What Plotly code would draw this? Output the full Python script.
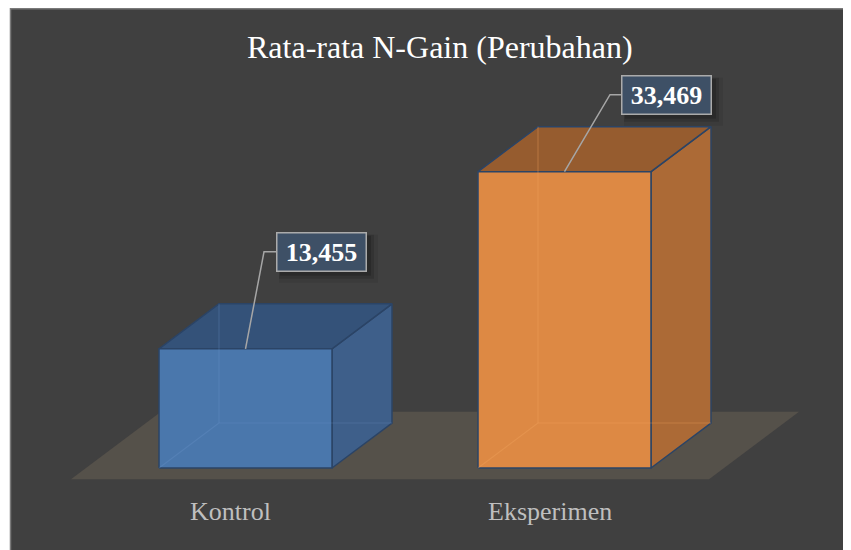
import plotly.graph_objects as go

# ---------------- data ----------------
categories = ["Kontrol", "Eksperimen"]
values = [13.455, 33.469]
value_labels = ["13,455", "33,469"]
title_text = "Rata-rata N-Gain (Perubahan)"

# ---------------- style ----------------
front_colors = ["#4A77AC", "#DD8944"]
top_colors = ["#345279", "#965C2F"]
side_colors = ["#3E5F8A", "#AC6A36"]
hidden_colors = ["rgba(120,160,215,0.22)", "rgba(245,170,100,0.30)"]
edge_color = "#2B4466"
floor_color = "#55514A"
bg_color = "#404040"
serif = "Liberation Serif, Times New Roman, serif"

# label offsets (pixels) relative to bar front-top centre: elbow dx, box dx, dy
label_elbow_dx = [18.5, 45.5]
label_box_dx = [30.5, 56.5]
label_dy = [97, 77]

# the page body has an 8px margin, so the figure is 8px smaller and offset
PAGE_M = 8
W, H = 851 - PAGE_M, 550 - PAGE_M
PX_X = 319.0               # pixels per category step
PX_Y = 8.855               # pixels per value unit
X0_PX = 245.5 - PAGE_M     # pixel x of first category
Y0_PX = 468.0 - PAGE_M     # pixel y of value 0 (front plane)
DX = 60 / PX_X             # depth offset in x units
DY = 45 / PX_Y             # depth offset in y units
HW = 86.5 / PX_X           # bar half-width

xrange = [-X0_PX / PX_X, (W - X0_PX) / PX_X]
yrange = [-(H - Y0_PX) / PX_Y, Y0_PX / PX_Y]


def proj(x, y, d):
    return x + d * DX, y + d * DY


def poly(pts):
    xs, ys = [], []
    for p in pts:
        px, py = proj(*p)
        xs.append(px)
        ys.append(py)
    xs.append(xs[0])
    ys.append(ys[0])
    return xs, ys


fig = go.Figure()

# floor
n = len(categories)
fx, fy = poly([(-0.5, 0, -0.25), (n - 0.5, 0, -0.25), (n - 0.5, 0, 1.25), (-0.5, 0, 1.25)])
fig.add_trace(go.Scatter(x=fx, y=fy, mode="lines", fill="toself", fillcolor=floor_color,
                         line=dict(width=0), hoverinfo="skip", showlegend=False))

for i, (cat, v) in enumerate(zip(categories, values)):
    xl, xr = i - HW, i + HW
    # side face
    sx, sy = poly([(xr, 0, 0), (xr, v, 0), (xr, v, 1), (xr, 0, 1)])
    fig.add_trace(go.Scatter(x=sx, y=sy, mode="lines", fill="toself", fillcolor=side_colors[i],
                             line=dict(color=edge_color, width=1.5), hoverinfo="skip", showlegend=False))
    # top face
    tx, ty = poly([(xl, v, 0), (xr, v, 0), (xr, v, 1), (xl, v, 1)])
    fig.add_trace(go.Scatter(x=tx, y=ty, mode="lines", fill="toself", fillcolor=top_colors[i],
                             line=dict(color=edge_color, width=1.5), hoverinfo="skip", showlegend=False))
    # front face
    ox, oy = poly([(xl, 0, 0), (xr, 0, 0), (xr, v, 0), (xl, v, 0)])
    fig.add_trace(go.Scatter(x=ox, y=oy, mode="lines", fill="toself", fillcolor=front_colors[i],
                             line=dict(color=edge_color, width=1.5), hoverinfo="skip", showlegend=False))
    # hidden edges (seen through the translucent faces)
    hx, hy = [], []
    for seg in [[(xl, 0, 0), (xl, 0, 1)], [(xl, 0, 1), (xr, 0, 1)], [(xl, 0, 1), (xl, v, 1)]]:
        for p in seg:
            px, py = proj(*p)
            hx.append(px)
            hy.append(py)
        hx.append(None)
        hy.append(None)
    fig.add_trace(go.Scatter(x=hx, y=hy, mode="lines", line=dict(color=hidden_colors[i], width=1.2),
                             hoverinfo="skip", showlegend=False))

# leader lines
for i, v in enumerate(values):
    ex = i + label_elbow_dx[i] / PX_X
    bx = i + label_box_dx[i] / PX_X
    ly = v + label_dy[i] / PX_Y
    fig.add_trace(go.Scatter(x=[i, ex, bx], y=[v, ly, ly], mode="lines",
                             line=dict(color="#A6A6A6", width=1.5), hoverinfo="skip", showlegend=False))

annotations = []
shapes = [dict(type="rect", xref="paper", yref="paper", x0=(10.5 - PAGE_M) / W, x1=1.01,
               y0=-0.01, y1=1 - 0.75 / H,
               fillcolor=bg_color, line=dict(color="#7A7A7A", width=1.5), layer="below")]

BOX_W, BOX_H = 91, 40
for i, v in enumerate(values):
    bx = i + label_box_dx[i] / PX_X
    ly = v + label_dy[i] / PX_Y
    # soft shadow behind the label box (pixel-sized, anchored at the label point)
    for sh, grow, a in [(7, 4, 0.08), (5, 2, 0.12), (4, 0, 0.16)]:
        shapes.append(dict(type="rect", xref="x", yref="y", xsizemode="pixel", ysizemode="pixel",
                           xanchor=bx, yanchor=ly,
                           x0=sh - grow, x1=BOX_W + sh + grow,
                           y0=-BOX_H / 2 - sh - grow, y1=BOX_H / 2 - sh + grow,
                           fillcolor="rgba(0,0,0,%s)" % a, line=dict(width=0), layer="above"))
    annotations.append(dict(x=bx, y=ly, xref="x", yref="y", text="<b>%s</b>" % value_labels[i],
                            showarrow=False, xanchor="left", yanchor="middle",
                            font=dict(family=serif, size=26, color="white"),
                            bgcolor="#3E5066", bordercolor="#ABABAB", borderwidth=1.5,
                            borderpad=2, width=84, height=33))

# category labels (on floor front edge)
for i, cat in enumerate(categories):
    cx, cy = proj(i, 0, -0.25)
    annotations.append(dict(x=cx, y=cy, xref="x", yref="y", text=cat, showarrow=False,
                            xanchor="center", yanchor="middle", yshift=-32,
                            font=dict(family=serif, size=26, color="#BFBFBF")))

# title
annotations.append(dict(x=(440 - PAGE_M) / W, y=1 - (47 - PAGE_M) / H, xref="paper", yref="paper",
                        text=title_text, showarrow=False, xanchor="center", yanchor="middle",
                        font=dict(family=serif, size=32, color="white")))

fig.update_layout(
    width=W, height=H,
    margin=dict(l=0, r=0, t=0, b=0),
    paper_bgcolor="white",
    plot_bgcolor="rgba(0,0,0,0)",
    showlegend=False,
    hovermode=False,
    xaxis=dict(range=xrange, visible=False, fixedrange=True),
    yaxis=dict(range=yrange, visible=False, fixedrange=True),
    annotations=annotations,
    shapes=shapes,
)

fig.write_html("out.html", config={"displayModeBar": False})
